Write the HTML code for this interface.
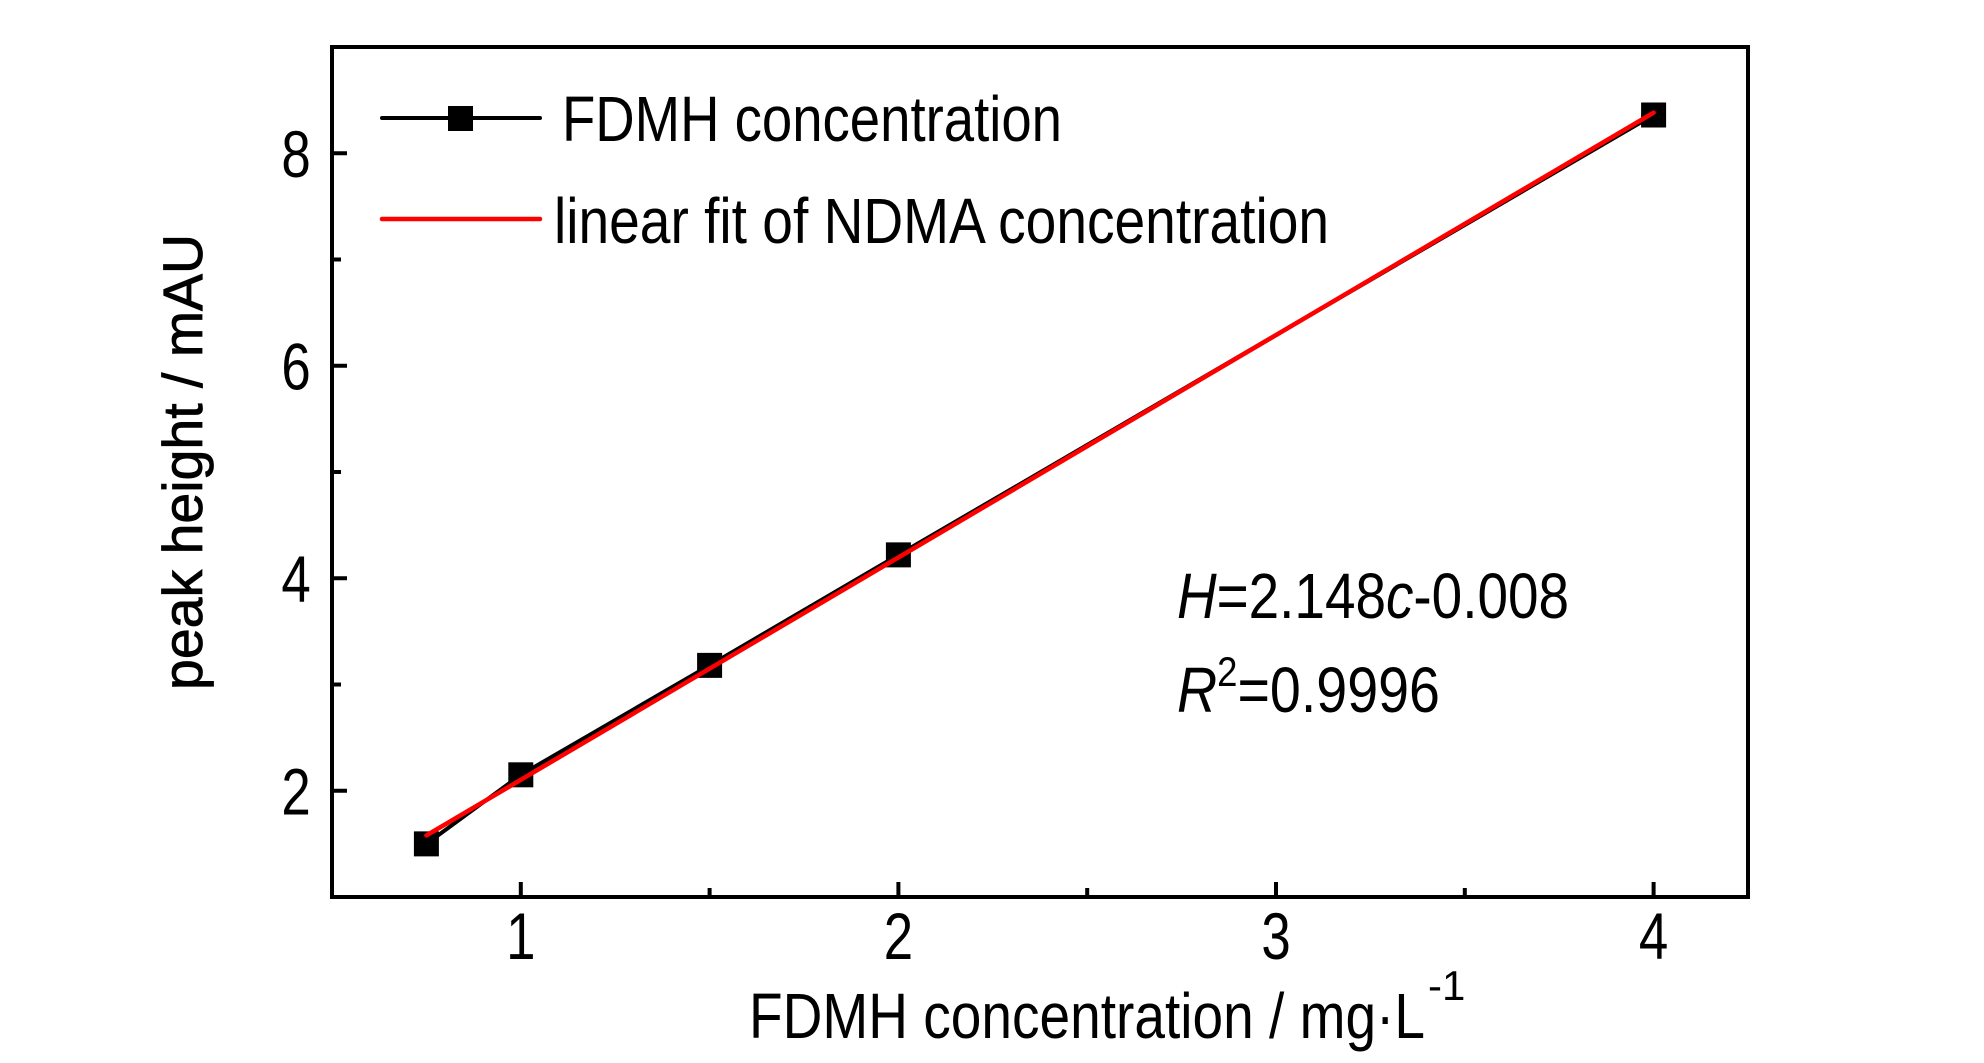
<!DOCTYPE html>
<html><head><meta charset="utf-8"><style>
html,body{margin:0;padding:0;background:#fff;}
svg{display:block;font-family:"Liberation Sans",Arial,sans-serif;}
</style></head><body>
<svg id="chart" width="1984" height="1063" viewBox="0 0 1984 1063" xmlns="http://www.w3.org/2000/svg">
<g id="axes"></g>
<g id="series"></g>
<g>
  <line x1="382" y1="118" x2="540" y2="118" stroke="#000" stroke-width="4" stroke-linecap="round"/>
  <rect x="448" y="106" width="25" height="25" fill="#000"/>
  <text x="562" y="141" font-size="64" textLength="500" lengthAdjust="spacingAndGlyphs">FDMH concentration</text>
  <line x1="382" y1="219" x2="540" y2="219" stroke="#f00" stroke-width="4.5" stroke-linecap="round"/>
  <text x="554" y="243" font-size="64" textLength="775" lengthAdjust="spacingAndGlyphs">linear fit of NDMA concentration</text>
</g>
<text x="1177" y="618" font-size="64" textLength="392" lengthAdjust="spacingAndGlyphs"><tspan font-style="italic">H</tspan>=2.148<tspan font-style="italic">c</tspan>-0.008</text>
<text x="1177" y="712" font-size="64" textLength="263" lengthAdjust="spacingAndGlyphs"><tspan font-style="italic">R</tspan><tspan dy="-26" font-size="42">2</tspan><tspan dy="26">=0.9996</tspan></text>
<text x="749" y="1038" font-size="64" textLength="676" lengthAdjust="spacingAndGlyphs">FDMH concentration / mg·L</text>
<text x="1428" y="1000" font-size="42">-1</text>
<text transform="translate(202,462) rotate(-90)" text-anchor="middle" font-size="56" stroke="#000" stroke-width="0.8" textLength="456" lengthAdjust="spacingAndGlyphs">peak height / mAU</text>
</svg>
<script>
const xTicks = [1, 2, 3, 4];
const xTickLabels = ["1", "2", "3", "4"];
const xMinor = [1.5, 2.5, 3.5];
const yTicks = [2, 4, 6, 8];
const yTickLabels = ["2", "4", "6", "8"];
const yMinor = [3, 5, 7, 9];
const concentration = [0.75, 1, 1.5, 2, 4];
const peakHeight = [1.5, 2.15, 3.18, 4.22, 8.36];
const fitSlope = 2.093;
const fitIntercept = 0.01;

const L = 332, R = 1748, T = 47, B = 897;
const xMin = 0.5, xMax = 4.25, yMin = 1, yMax = 9;
const sx = v => L + (v - xMin) / (xMax - xMin) * (R - L);
const sy = v => B - (v - yMin) / (yMax - yMin) * (B - T);
const NS = "http://www.w3.org/2000/svg";
function mk(tag, attrs, parent) {
  const e = document.createElementNS(NS, tag);
  for (const k in attrs) e.setAttribute(k, attrs[k]);
  parent.appendChild(e);
  return e;
}
const axes = document.getElementById('axes');
const frame = mk('rect', {x: L, y: T, width: R - L, height: B - T, fill: 'none', stroke: '#000', 'stroke-width': 4}, axes);


xTicks.forEach((v, i) => {
  const t = mk('line', {x1: sx(v), x2: sx(v), y1: B, y2: B - 15, stroke: '#000', 'stroke-width': 4}, axes);
  
  
  const lb = mk('text', {x: sx(v), y: 959, 'text-anchor': 'middle', 'font-size': 66, transform: `translate(${sx(v)},0) scale(0.8,1) translate(${-sx(v)},0)`}, axes);
  lb.textContent = xTickLabels[i];
  
  
});
xMinor.forEach(v => {
  const t = mk('line', {x1: sx(v), x2: sx(v), y1: B, y2: B - 9, stroke: '#000', 'stroke-width': 4}, axes);
  
  
});
yTicks.forEach((v, i) => {
  const t = mk('line', {x1: L, x2: L + 15, y1: sy(v), y2: sy(v), stroke: '#000', 'stroke-width': 4}, axes);
  
  
  const lb = mk('text', {x: 296, y: sy(v) + 24, 'text-anchor': 'middle', 'font-size': 66, transform: `translate(296,0) scale(0.8,1) translate(-296,0)`}, axes);
  lb.textContent = yTickLabels[i];
  
  
});
yMinor.forEach(v => {
  const t = mk('line', {x1: L, x2: L + 9, y1: sy(v), y2: sy(v), stroke: '#000', 'stroke-width': 4}, axes);
  
  
});
const series = document.getElementById('series');
const pts = concentration.map((c, i) => sx(c) + ',' + sy(peakHeight[i])).join(' ');
const pl = mk('polyline', {points: pts, fill: 'none', stroke: '#000', 'stroke-width': 4}, series);


concentration.forEach((c, i) => {
  const m = mk('rect', {x: sx(c) - 12.5, y: sy(peakHeight[i]) - 12.5, width: 25, height: 25, fill: '#000'}, series);
  
  
});
const c0 = concentration[0], c1 = concentration[concentration.length - 1];
const fit = mk('line', {x1: sx(c0), y1: sy(fitSlope * c0 + fitIntercept), x2: sx(c1), y2: sy(fitSlope * c1 + fitIntercept), stroke: '#f00', 'stroke-width': 4.5, 'stroke-linecap': 'round'}, series);


</script>
</body></html>
